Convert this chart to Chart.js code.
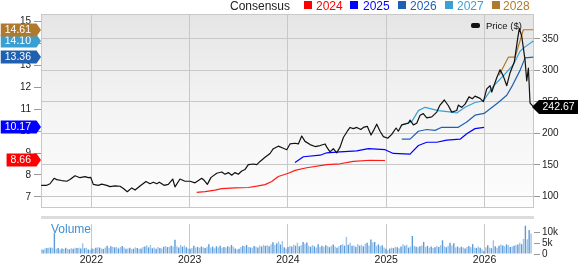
<!DOCTYPE html>
<html><head><meta charset="utf-8">
<script src="https://cdn.jsdelivr.net/npm/chart.js@4/dist/chart.umd.min.js"></script>
<style>
html,body{margin:0;padding:0;background:#fff;overflow:hidden}
#wrap{position:relative;width:579px;height:264px;font-family:'Liberation Sans',Arial,sans-serif}
canvas{position:absolute;left:0}
#cA{top:0}
#cB{top:216px}
.lg{position:absolute;top:-0.5px;font-size:12px;line-height:12px;white-space:nowrap;z-index:2}
.sq{position:absolute;top:1px;width:8px;height:7.5px;z-index:2}
#pl{position:absolute;left:486px;top:21px;font-size:9.5px;line-height:10px;color:#111;z-index:2}
#pk{position:absolute;left:471px;top:23px;width:9px;height:4.5px;background:#111;border-radius:2px;z-index:2}
#vl{position:absolute;left:51px;top:222.5px;font-size:12px;line-height:12px;color:#3f8fd2;z-index:2}
</style></head><body>
<div id="wrap">
<canvas id="cA" width="579" height="216"></canvas>
<canvas id="cB" width="579" height="48"></canvas>
<span class="lg" style="left:230px;color:#222">Consensus</span>
<span class="sq" style="left:304px;background:#ff0000"></span><span class="lg" style="left:316px;color:#ff0000">2024</span>
<span class="sq" style="left:350px;background:#0000ff"></span><span class="lg" style="left:363px;color:#0000ff">2025</span>
<span class="sq" style="left:398px;background:#1f60b5"></span><span class="lg" style="left:410px;color:#1f60b5">2026</span>
<span class="sq" style="left:445px;background:#3aa0d2"></span><span class="lg" style="left:457px;color:#3aa0d2">2027</span>
<span class="sq" style="left:492px;background:#b07a2e"></span><span class="lg" style="left:503px;color:#b07a2e">2028</span>
<span id="pk"></span><span id="pl">Price ($)</span>
<span id="vl">Volume</span>
</div>
<script>
// ---- data ----
const xMin = 2021.488, xMax = 2026.503;
const yearTicks = [2022, 2023, 2024, 2025, 2026];
const epsTicks = [7, 8, 9, 10, 11, 12, 13, 14, 15];
const priceTicks = [100, 150, 200, 250, 300, 350];
const volTicks = [0, 5, 10];

const priceYears = [2021.49,2021.546,2021.58,2021.621,2021.648,2021.699,2021.75,2021.783,2021.834,2021.885,2021.936,2021.969,2021.994,2022.02,2022.071,2022.106,2022.157,2022.19,2022.241,2022.292,2022.326,2022.366,2022.411,2022.445,2022.495,2022.556,2022.597,2022.631,2022.665,2022.692,2022.74,2022.783,2022.828,2022.851,2022.902,2022.953,2023.004,2023.055,2023.123,2023.15,2023.18,2023.218,2023.276,2023.327,2023.36,2023.394,2023.428,2023.462,2023.495,2023.53,2023.564,2023.597,2023.648,2023.683,2023.716,2023.767,2023.818,2023.851,2023.902,2023.947,2023.988,2024.021,2024.072,2024.106,2024.14,2024.174,2024.225,2024.276,2024.327,2024.378,2024.395,2024.428,2024.462,2024.496,2024.53,2024.564,2024.604,2024.632,2024.665,2024.7,2024.741,2024.774,2024.808,2024.845,2024.876,2024.903,2024.937,2024.971,2025.015,2025.056,2025.1,2025.123,2025.158,2025.225,2025.242,2025.276,2025.31,2025.344,2025.377,2025.412,2025.463,2025.514,2025.547,2025.591,2025.632,2025.666,2025.717,2025.733,2025.768,2025.802,2025.842,2025.876,2025.903,2025.954,2025.988,2026.022,2026.056,2026.073,2026.124,2026.158,2026.191,2026.226,2026.259,2026.303,2026.338,2026.354,2026.378,2026.412,2026.429,2026.446,2026.463,2026.496];
const priceValues = [117.7,117.7,120.2,128.8,126.8,125.3,124.2,126.8,132.9,129.8,131.4,129.8,130.3,119.2,117.7,119.7,117.7,115.6,116.7,116.2,112.6,107.6,113.6,110.2,116.7,123.8,120.2,122.7,120.2,122.7,117.7,119.2,127.7,115.2,127.7,124.2,124.2,121.7,128.8,125.3,119.2,130.3,136.8,138.9,135.3,137.9,133.8,137.9,135.3,140.5,142.9,150.5,151.5,150.5,155.6,162.1,168.2,175.8,179.8,176.8,174.2,183.3,184.4,183.3,195.9,187.4,182.3,179.2,180.8,183.3,178.3,170.8,175.8,169.2,178.3,193.5,203.5,209.5,207.6,209.5,206.1,210.1,211.1,197.4,206.1,214.7,203.5,195.0,192.4,198.5,208.6,203.5,213.6,216.2,221.2,213.6,216.2,228.8,231.4,224.7,226.2,233.8,245.0,253.0,243.9,233.8,236.4,245.0,241.3,246.5,258.0,255.0,259.1,255.6,250.4,270.7,275.7,265.6,288.3,301.0,290.9,275.7,295.9,313.6,351.5,366.6,354.1,316.2,283.3,303.5,248.0,242.67];

const c2024Years = [2023.072,2023.157,2023.258,2023.327,2023.462,2023.597,2023.683,2023.767,2023.835,2023.902,2024.004,2024.072,2024.191,2024.395,2024.53,2024.665,2024.835,2024.988];
const c2024 = [7.21,7.24,7.31,7.38,7.41,7.43,7.49,7.56,7.70,7.93,8.08,8.21,8.33,8.47,8.51,8.62,8.67,8.66];
const c2025Years = [2024.072,2024.157,2024.327,2024.395,2024.53,2024.7,2024.818,2024.988,2025.072,2025.242,2025.327,2025.412,2025.514,2025.615,2025.751,2025.819,2025.903,2025.995];
const c2025 = [8.57,8.83,8.90,9.01,9.05,9.10,9.20,9.15,8.98,8.95,9.34,9.49,9.49,9.59,9.63,9.88,10.11,10.17];
const c2026Years = [2025.158,2025.242,2025.327,2025.412,2025.496,2025.565,2025.733,2025.819,2025.903,2025.995,2026.14,2026.226,2026.277,2026.361,2026.412,2026.496];
const c2026 = [9.63,9.63,9.99,10.07,10.03,10.17,10.17,10.41,10.72,10.80,11.30,11.63,12.02,12.76,13.33,13.36];
const c2027Years = [2025.158,2025.259,2025.327,2025.395,2025.53,2025.666,2025.717,2025.802,2025.903,2025.988,2026.09,2026.209,2026.293,2026.361,2026.412,2026.496];
const c2027 = [10.28,10.43,10.93,11.08,10.93,10.86,10.82,11.08,11.30,11.37,12.04,12.60,13.02,13.63,13.83,14.10];
const c2028Years = [2026.148,2026.242,2026.31,2026.361,2026.395,2026.496];
const c2028 = [12.54,13.36,13.36,14.11,14.61,14.61];

const volumeStart = 2021.49, volumeStep = 7 / 365.25;
const volumeK = [
2.2,2.0,2.6,2.8,2.9,3.0,2.9,9.7,2.4,2.8,
2.1,2.6,2.3,2.9,2.4,2.2,2.7,2.5,2.9,2.8,
2.9,2.6,5.0,2.7,2.9,2.1,2.0,2.6,2.5,2.9,
3.1,3.0,2.6,2.4,3.0,3.8,2.9,3.6,3.4,3.1,
3.3,2.6,3.2,3.7,3.0,2.4,2.6,2.9,2.3,2.5,
3.1,2.8,2.4,2.6,3.3,3.5,4.0,3.1,4.2,2.7,
3.0,2.4,3.3,2.8,2.6,3.4,3.7,3.2,3.3,3.9,
3.5,6.6,3.6,3.0,4.2,3.4,4.0,3.1,2.6,2.4,
2.8,3.8,3.0,3.3,2.9,3.5,3.2,2.8,3.4,4.6,
3.0,3.5,2.7,3.6,3.1,3.8,2.9,3.3,3.0,3.6,
3.2,4.2,3.4,2.6,2.1,2.5,3.3,3.9,3.6,4.2,
3.3,3.1,2.9,3.7,3.4,3.0,4.0,3.5,4.3,3.8,
4.1,3.6,4.6,5.5,4.2,5.0,5.8,4.4,6.0,3.2,
2.6,3.3,3.8,3.5,4.4,3.9,5.3,3.6,4.1,5.6,
4.8,5.4,3.9,3.4,4.2,3.6,3.0,4.5,3.3,3.8,
3.4,4.1,3.7,3.2,3.8,4.4,3.5,2.9,3.6,4.2,
4.6,3.9,8.0,4.3,5.3,3.8,4.0,3.4,4.7,3.9,
4.2,3.6,4.8,5.2,4.0,6.8,5.4,5.6,3.8,4.5,
3.6,4.1,3.0,2.4,1.8,2.6,3.0,2.8,3.4,3.1,
2.7,3.5,4.6,3.8,4.3,3.0,3.5,8.4,3.9,3.4,
3.1,3.6,4.0,5.6,3.3,3.8,3.0,3.5,2.8,3.2,
3.7,3.3,4.1,6.4,3.6,3.2,3.9,5.3,4.0,5.0,
3.1,3.5,2.9,3.4,3.0,2.6,3.3,3.7,3.2,4.6,
3.0,2.8,3.5,2.9,2.2,1.4,3.2,4.1,3.0,2.7,
6.4,3.6,2.9,3.8,4.4,4.0,3.6,4.5,4.1,3.3,
3.5,3.9,4.2,4.4,5.3,4.6,7.0,13.2,6.9,11.2,
9.6];

// ---- styling ----
const FONT = "'Liberation Sans', Arial, sans-serif";
Chart.defaults.font.family = FONT;
const toXY = (xs, ys) => xs.map((x, i) => ({x: x, y: ys[i]}));
const setTicks = arr => s => { s.ticks = arr.map(v => ({value: v})); };
const consensus = [
  {label: '2024', xs: c2024Years, ys: c2024, color: '#ff1a1a', flag: '#ff0000'},
  {label: '2025', xs: c2025Years, ys: c2025, color: '#0000ff', flag: '#0000ff'},
  {label: '2026', xs: c2026Years, ys: c2026, color: '#1f60b5', flag: '#1f60b0'},
  {label: '2027', xs: c2027Years, ys: c2027, color: '#3aa0d2', flag: '#3a9fd0'},
  {label: '2028', xs: c2028Years, ys: c2028, color: '#b07a2e', flag: '#b07a2e'}
];

const mainPlugin = {
  id: 'mainDeco',
  beforeDraw(chart) {
    const {ctx, chartArea: a} = chart;
    const g = ctx.createLinearGradient(0, a.top, 0, a.bottom);
    g.addColorStop(0, '#e5e5e5');
    g.addColorStop(0.5, '#f4f4f4');
    g.addColorStop(1, '#fdfdfd');
    ctx.save();
    ctx.fillStyle = g;
    ctx.fillRect(a.left, a.top, a.right - a.left, a.bottom - a.top);
    ctx.restore();
  },
  beforeDatasetsDraw(chart) {
    const {ctx, chartArea: a} = chart;
    ctx.save();
    ctx.strokeStyle = '#c8c8c8';
    ctx.lineWidth = 1;
    ctx.strokeRect(a.left + 0.5, a.top + 0.5, a.right - a.left - 1, a.bottom - a.top);
    ctx.restore();
  },
  afterDraw(chart) {
    const {ctx, chartArea: a} = chart;
    const yE = chart.scales.yE, yP = chart.scales.yP;
    ctx.save();
    ctx.font = '10.5px ' + FONT;
    consensus.forEach(c => {
      const v = c.ys[c.ys.length - 1];
      const y = Math.round(yE.getPixelForValue(v));
      const txt = v.toFixed(2);
      const w = ctx.measureText(txt).width;
      const right = 31, h = 13;
      const left = Math.max(0, right - w - 4);
      ctx.fillStyle = c.flag;
      ctx.beginPath();
      ctx.moveTo(left, y - h / 2);
      ctx.lineTo(36.5, y - h / 2);
      ctx.lineTo(a.left, y);
      ctx.lineTo(36.5, y + h / 2);
      ctx.lineTo(left, y + h / 2);
      ctx.closePath();
      ctx.fill();
      ctx.fillStyle = '#fff';
      ctx.textAlign = 'right';
      ctx.textBaseline = 'middle';
      ctx.fillText(txt, right, y + 0.5);
    });
    const pv = priceValues[priceValues.length - 1];
    const py = Math.round(yP.getPixelForValue(pv));
    const ptxt = pv.toFixed(2);
    ctx.fillStyle = '#000';
    ctx.beginPath();
    ctx.moveTo(a.right - 2, py);
    ctx.lineTo(a.right + 5, py - 7);
    ctx.lineTo(578, py - 7);
    ctx.lineTo(578, py + 7);
    ctx.lineTo(a.right + 5, py + 7);
    ctx.closePath();
    ctx.fill();
    ctx.fillStyle = '#fff';
    ctx.textAlign = 'left';
    ctx.textBaseline = 'middle';
    ctx.fillText(ptxt, a.right + 8.5, py + 0.5);
    ctx.restore();
  }
};

const datasets = [
  {label: 'Price ($)', data: toXY(priceYears, priceValues), yAxisID: 'yP', borderColor: '#111', borderWidth: 1.2}
].concat(consensus.map(c => ({label: c.label, data: toXY(c.xs, c.ys), yAxisID: 'yE', borderColor: c.color, borderWidth: 1.2})));

new Chart(document.getElementById('cA'), {
  type: 'line',
  data: {datasets: datasets},
  options: {
    responsive: false, animation: false, devicePixelRatio: 1,
    layout: {padding: {top: 14, left: 0, right: 0, bottom: 0}},
    elements: {point: {radius: 0}, line: {tension: 0, borderJoinStyle: 'round'}},
    plugins: {legend: {display: false}, tooltip: {enabled: false}},
    scales: {
      x: {type: 'linear', min: xMin, max: xMax, afterBuildTicks: setTicks(yearTicks),
          afterFit: s => { s.height = 0; }, ticks: {display: false},
          grid: {color: '#c8c8c8', drawTicks: false}, border: {display: false}},
      yE: {position: 'left', min: 6.543, max: 15.326, afterBuildTicks: setTicks(epsTicks),
           afterFit: s => { s.width = 41; },
           ticks: {font: {size: 10}, color: '#222', padding: 3, callback: v => String(v)},
           grid: {drawOnChartArea: false, tickLength: 7, tickColor: '#999'}, border: {display: false}},
      yP: {position: 'right', min: 83.33, max: 389.4, afterBuildTicks: setTicks(priceTicks),
           afterFit: s => { s.width = 45; },
           ticks: {font: {size: 10}, color: '#222', padding: 2, callback: v => String(v)},
           grid: {color: '#c8c8c8', tickLength: 6, tickColor: '#999'}, border: {display: false}}
    }
  },
  plugins: [mainPlugin]
});

const volPlugin = {
  id: 'volDeco',
  beforeDraw(chart) {
    const {ctx, chartArea: a} = chart;
    ctx.save();
    ctx.fillStyle = '#dcdcdc';
    ctx.fillRect(a.left, 0, a.right - a.left, 3);
    ctx.restore();
  }
};

new Chart(document.getElementById('cB'), {
  type: 'bar',
  data: {datasets: [{
    label: 'Volume',
    data: volumeK.map((v, i) => ({x: volumeStart + i * volumeStep, y: v})),
    backgroundColor: volumeK.map((v, i) => i % 2 ? '#5b9bd8' : '#9cc4ec'),
    barPercentage: 0.75, categoryPercentage: 1, yAxisID: 'yV'
  }]},
  options: {
    responsive: false, animation: false, devicePixelRatio: 1,
    layout: {padding: {top: 3, left: 41, right: 0, bottom: 0}},
    plugins: {legend: {display: false}, tooltip: {enabled: false}},
    scales: {
      x: {type: 'linear', min: xMin, max: xMax, offset: false, afterBuildTicks: setTicks(yearTicks),
          afterFit: s => { s.height = 10; },
          ticks: {font: {size: 10.5}, color: '#222', padding: 0, autoSkip: false, maxRotation: 0, callback: v => String(v)},
          grid: {color: '#c8c8c8', drawTicks: false, offset: false}, border: {display: false}},
      yV: {position: 'right', min: 0, max: 14, afterBuildTicks: setTicks(volTicks),
           afterFit: s => { s.width = 45; },
           ticks: {font: {size: 10}, color: '#222', padding: 2, callback: v => v === 0 ? '0' : v + 'k'},
           grid: {drawOnChartArea: false, tickLength: 6, tickColor: '#999'}, border: {display: false}}
    }
  },
  plugins: [volPlugin]
});
</script>
</body></html>
